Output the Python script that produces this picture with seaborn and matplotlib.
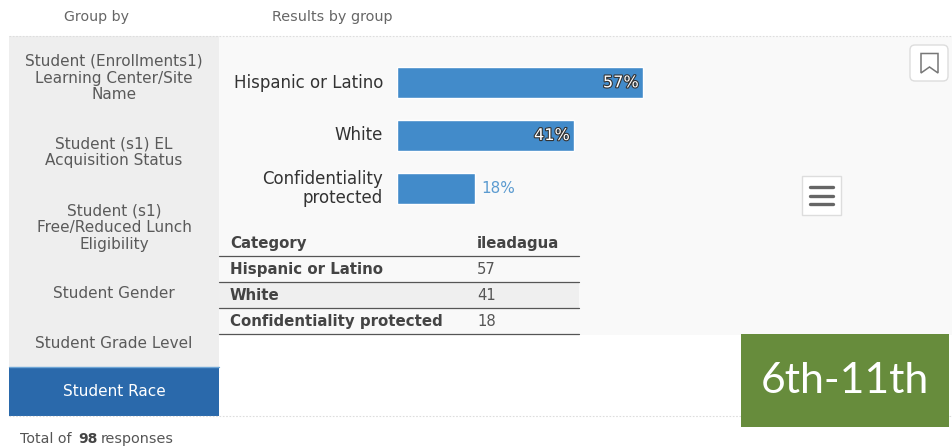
import matplotlib
matplotlib.use("Agg")
import matplotlib.pyplot as plt
import matplotlib.patheffects as pe
from matplotlib.patches import FancyBboxPatch, Polygon, Rectangle
from matplotlib.transforms import ScaledTranslation
import pandas as pd
import seaborn as sns

categories = ["Hispanic or Latino", "White", "Confidentiality\nprotected"]
table_categories = ["Hispanic or Latino", "White", "Confidentiality protected"]
percent_values = [57, 41, 18]
table_values = [57, 41, 18]
group_options = [
    "Student (Enrollments1)\nLearning Center/Site\nName",
    "Student (s1) EL\nAcquisition Status",
    "Student (s1)\nFree/Reduced Lunch\nEligibility",
    "Student Gender",
    "Student Grade Level",
    "Student Race",
]
group_centers = [78, 152.5, 227.5, 294, 343, 392]

W, H = 953, 448
FONT = "DejaVu Sans"
sns.set_theme(style="white")
plt.rcParams["font.family"] = [FONT]

fig = plt.figure(figsize=(W / 100, H / 100), dpi=100, facecolor="white")

# Page furniture is laid out in a pixel coordinate system
page = fig.add_axes([0, 0, 1, 1], zorder=0)
page.set_xlim(0, W)
page.set_ylim(H, 0)
page.axis("off")

page.add_patch(Rectangle((219, 36), W - 219, 299, fc="#f9f9f9", ec="none"))
page.add_patch(Rectangle((9, 36), 210, 331, fc="#eeeeee", ec="none"))
page.add_patch(Rectangle((9, 367), 210, 49.5, fc="#2a69ab", ec="none"))
page.plot([9, 219], [367.5, 367.5], color="#6ea6d6", lw=1)

for y in (36, 416.5):
    page.plot([9, W], [y, y], color="#dddddd", lw=0.8, ls=(0, (1.5, 1.5)))

page.text(97, 16.5, "Group by", ha="center", va="center", fontsize=10.2, color="#666666")
page.text(332, 16.5, "Results by group", ha="center", va="center", fontsize=10.4, color="#666666")

for label, yc in zip(group_options, group_centers):
    active = label == "Student Race"
    page.text(114, yc, label, ha="center", va="center", fontsize=11, linespacing=1.15,
              color="white" if active else "#5a5a5a")

# Summary table under the chart
page.add_patch(Rectangle((219, 282.5), 360, 26, fc="#efefef", ec="none"))
for y in (256.5, 282.5, 308.5, 334.5):
    page.plot([219, 579], [y, y], color="#555555", lw=0.9)
page.text(230, 243.5, "Category", va="center", fontsize=10.8, fontweight="bold", color="#444444")
page.text(477, 243.5, "ileadagua", va="center", fontsize=10.7, fontweight="bold", color="#444444")
for y, name, value in zip((269.5, 295.5, 321.5), table_categories, table_values):
    page.text(230, y, name, va="center", fontsize=10.8, fontweight="bold", color="#444444")
    page.text(477, y, str(value), va="center", fontsize=10.6, color="#555555")

page.text(20, 439, "Total of", va="center", fontsize=10.2, color="#555555")
page.text(78, 439, "98", va="center", fontsize=10, fontweight="bold", color="#444444")
page.text(101, 439, "responses", va="center", fontsize=10.4, color="#555555")

# Bookmark button
page.add_patch(FancyBboxPatch((910, 45), 38, 36, boxstyle="round,pad=0,rounding_size=5",
                              fc="white", ec="#dddddd", lw=1))
page.add_patch(Polygon([(921, 53.5), (938, 53.5), (938, 73), (929.5, 67), (921, 73)],
                       closed=True, fc="none", ec="#777777", lw=1.1))

# Menu button
page.add_patch(Rectangle((802, 176), 39, 39, fc="white", ec="#dddddd", lw=1))
for y in (187.5, 196, 204.5):
    page.plot([810.5, 833], [y, y], color="#666666", lw=2.4, solid_capstyle="round")

# Grade band badge
page.add_patch(Rectangle((741, 334), 208, 93, fc="#678c3c", ec="none", zorder=5))
page.text(845, 381, "6th-11th", ha="center", va="center", fontsize=30.8, color="white",
          family="Lato", zorder=6)

# Horizontal bar chart
left, right = 397.5, 397.5 + 4.307 * 100
top, bottom = 56.4, 214.6
ax = fig.add_axes([left / W, 1 - bottom / H, (right - left) / W, (bottom - top) / H], zorder=1)
ax.patch.set_alpha(0)
frame = pd.DataFrame({"category": categories, "percent": percent_values})
sns.barplot(data=frame, x="percent", y="category", orient="h", color="#428bca",
            saturation=1, width=0.58, ax=ax)
ax.set_xlim(0, 100)
ax.set_xlabel("")
ax.set_ylabel("")
ax.set_xticks([])
sns.despine(ax=ax, left=True, bottom=True)
ax.tick_params(axis="y", length=0, pad=10.5)

# Category labels sit slightly above the bar centre
lift = ScaledTranslation(0, 1.6 / 72, fig.dpi_scale_trans)
for tick in ax.get_yticklabels():
    tick.set_fontsize(12)
    tick.set_color("#333333")
    tick.set_multialignment("right")
    tick.set_linespacing(1.08)
    tick.set_transform(tick.get_transform() + lift)

for i, value in enumerate(percent_values):
    if value >= 30:
        ax.text(value - 1, i, f"{value}%", ha="right", va="center", fontsize=11.6, color="white",
                path_effects=[pe.withStroke(linewidth=1.6, foreground="#333333")])
    else:
        ax.text(value + 1.4, i, f"{value}%", ha="left", va="center", fontsize=11, color="#5b9bd0")

fig.savefig("out.png", dpi=100)
